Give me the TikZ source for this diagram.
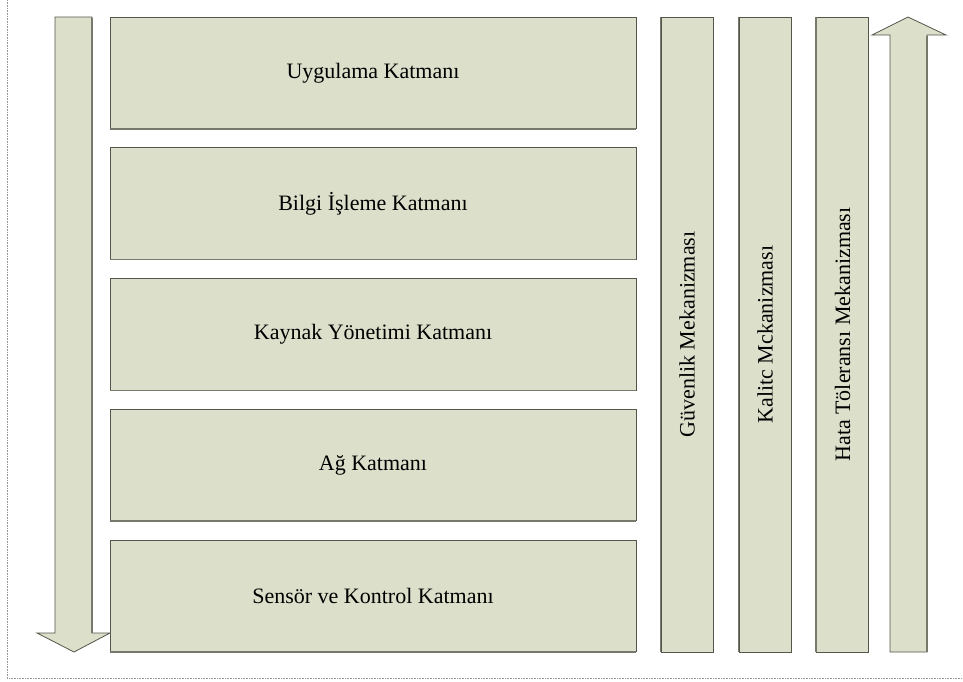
\documentclass[tikz,border=0pt]{standalone}
\usepackage{fontspec}
\setmainfont{Liberation Serif}
\definecolor{boxfill}{RGB}{220,223,202}
\definecolor{edgedark}{RGB}{85,85,75}
\definecolor{edgeshade}{RGB}{120,120,108}
\definecolor{framegray}{RGB}{150,150,150}
\begin{document}
\begin{tikzpicture}[x=1pt,y=-1pt,
  layerbox/.style={fill=boxfill, draw=edgedark, line width=0.8pt, minimum width=526pt, minimum height=111.5pt, inner sep=0pt,
    font=\fontsize{22}{26}\selectfont, text=black},
  mechbox/.style={fill=boxfill, draw=edgedark, line width=0.8pt, minimum width=635pt, minimum height=52pt, inner sep=0pt,
    rotate=90, font=\fontsize{22}{26}\selectfont, text=black},
  flowarrow/.style={fill=boxfill, draw=edgedark, line width=0.8pt, line join=miter},
  shade/.style={draw=edgeshade, line width=1.4pt},
  frame/.style={draw=framegray, line width=0.6pt, densely dotted}]
\useasboundingbox (0,0) rectangle (963,681);
\draw[frame] (7,0) -- (7,678) -- (963,678);

% left down arrow
\draw[flowarrow] (55,17) -- (92,17) -- (92,633) -- (110,633) -- (74,652) -- (37,633) -- (55,633) -- cycle;
\draw[shade] (92,18) -- (92,633);

% layers
\node[layerbox] (l1) at (373,73) {Uygulama Katmanı};
\node[layerbox] (l2) at (373,203.5) {Bilgi İşleme Katmanı};
\node[layerbox] (l3) at (373,334.5) {Kaynak Yönetimi Katmanı};
\node[layerbox] (l4) at (373,465) {Ağ Katmanı};
\node[layerbox] (l5) at (373,596) {Sensör ve Kontrol Katmanı};
\foreach \n in {l1,l2,l3,l4,l5}{
  \draw[shade] (\n.south west) -- (\n.south east);
}

% mechanisms
\node[mechbox] (m1) at (687,334.5) {Güvenlik Mekanizması};
\node[mechbox] (m2) at (765,334.5) {Kalitc Mckanizması};
\node[mechbox] (m3) at (842.5,334.5) {Hata Töleransı Mekanizması};
\foreach \n in {m1,m2,m3}{
  \draw[shade] (\n.north east) -- (\n.north west);
}

% right up arrow
\draw[flowarrow] (890,652) -- (927,652) -- (927,35) -- (946,35) -- (908,17) -- (872,35) -- (890,35) -- cycle;
\draw[shade] (927,36) -- (927,652);
\end{tikzpicture}
\end{document}
